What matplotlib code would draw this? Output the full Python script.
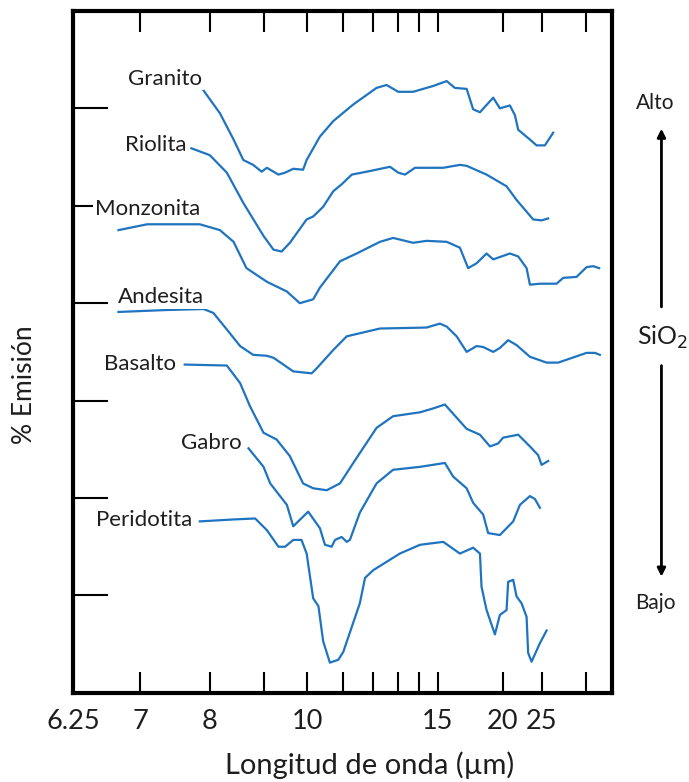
import numpy as np
import matplotlib.pyplot as plt
from matplotlib.patches import FancyArrowPatch

# Espectros de emisión (longitud de onda en µm, % emisión en unidades relativas)
granito_x = [7.87, 8.17, 8.41, 8.59, 8.78, 8.95, 9.06, 9.13, 9.31, 9.46, 9.65, 9.89, 9.98,
             10.33, 10.71, 11.33, 12.15, 12.54, 13.03, 13.71, 14.75, 15.54, 16.06, 16.88,
             17.37, 17.91, 19.07, 19.71, 20.76, 21.33, 21.72, 23.23, 24.19, 25.50, 26.96]
granito_y = [6.21, 5.95, 5.68, 5.47, 5.42, 5.35, 5.39, 5.37, 5.32, 5.34, 5.38, 5.37, 5.47,
             5.71, 5.87, 6.04, 6.21, 6.24, 6.17, 6.17, 6.23, 6.28, 6.21, 6.20,
             5.99, 5.96, 6.11, 6.00, 6.03, 5.93, 5.78, 5.68, 5.62, 5.62, 5.75]

riolita_x = [7.71, 8.00, 8.29, 8.59, 8.99, 9.20, 9.38, 9.57, 9.98, 10.15, 10.42, 10.71, 10.96,
             11.28, 11.79, 12.68, 13.03, 13.33, 13.80, 15.33, 16.40, 16.88, 18.47, 20.40,
             21.52, 23.69, 24.96, 26.06]
riolita_y = [5.59, 5.52, 5.34, 5.03, 4.69, 4.55, 4.53, 4.62, 4.86, 4.89, 4.99, 5.15, 5.22,
             5.32, 5.35, 5.40, 5.34, 5.32, 5.39, 5.39, 5.42, 5.41, 5.32, 5.20,
             5.06, 4.86, 4.85, 4.87]

monzonita_x = [6.74, 7.09, 7.84, 8.17, 8.41, 8.65, 9.06, 9.50, 9.81, 10.15, 10.33, 10.91, 11.44,
               12.28, 12.81, 13.71, 14.39, 15.54, 16.40, 16.99, 17.64, 18.47, 19.07, 20.76,
               21.72, 22.78, 23.23, 24.70, 27.61, 28.96, 32.15, 35.03, 37.23, 39.49]
monzonita_y = [4.75, 4.81, 4.81, 4.75, 4.63, 4.36, 4.22, 4.12, 4.00, 4.04, 4.16, 4.43, 4.51,
               4.63, 4.67, 4.62, 4.64, 4.63, 4.57, 4.36, 4.41, 4.51, 4.45, 4.51,
               4.48, 4.36, 4.19, 4.20, 4.20, 4.26, 4.27, 4.37, 4.38, 4.36]

andesita_x = [6.74, 7.35, 7.90, 8.06, 8.29, 8.53, 8.78, 9.06, 9.20, 9.65, 10.11, 10.24, 10.71,
              11.12, 12.28, 14.39, 15.13, 15.54, 16.18, 16.88, 17.64, 18.18, 19.07, 19.71,
              20.57, 21.52, 23.23, 25.79, 27.93, 35.03, 37.85, 39.78]
andesita_y = [3.91, 3.93, 3.94, 3.90, 3.73, 3.56, 3.47, 3.46, 3.44, 3.30, 3.28, 3.33, 3.52,
              3.66, 3.74, 3.75, 3.79, 3.76, 3.66, 3.50, 3.56, 3.55, 3.50, 3.54,
              3.62, 3.57, 3.45, 3.39, 3.39, 3.49, 3.49, 3.47]

basalto_x = [7.61, 8.29, 8.53, 8.72, 8.99, 9.27, 9.57, 9.89, 10.15, 10.52, 10.91, 11.33, 12.15,
             12.81, 14.05, 14.75, 15.43, 16.88, 17.91, 18.77, 19.54, 20.04, 21.72, 23.23,
             24.43, 24.96, 26.06]
basalto_y = [3.37, 3.36, 3.18, 2.94, 2.67, 2.60, 2.43, 2.15, 2.10, 2.08, 2.15, 2.36, 2.72,
             2.84, 2.88, 2.92, 2.96, 2.71, 2.65, 2.53, 2.56, 2.62, 2.65, 2.53,
             2.44, 2.34, 2.38]

gabro_x = [8.69, 8.99, 9.13, 9.50, 9.65, 10.02, 10.33, 10.47, 10.66, 10.76, 10.96, 11.12, 11.22,
           11.55, 12.15, 12.81, 14.05, 15.43, 15.95, 16.88, 17.37, 18.18, 18.61, 19.71,
           21.13, 21.93, 23.23, 23.94, 24.70]
gabro_y = [2.51, 2.32, 2.15, 1.93, 1.71, 1.86, 1.69, 1.52, 1.50, 1.57, 1.60, 1.55, 1.57,
           1.85, 2.15, 2.29, 2.32, 2.36, 2.22, 2.10, 1.95, 1.83, 1.64, 1.62,
           1.76, 1.93, 2.02, 1.99, 1.90]

peridotita_x = [7.84, 8.41, 8.82, 9.06, 9.31, 9.46, 9.65, 9.85, 9.98, 10.15, 10.29, 10.42, 10.61,
                10.86, 11.01, 11.55, 11.73, 12.03, 13.10, 14.05, 15.33, 16.40, 17.37, 17.91,
                18.04, 18.47, 19.23, 19.71, 20.40, 20.57, 21.13, 21.52, 22.13, 22.78, 22.99,
                23.46, 24.70, 25.79]
peridotita_y = [1.76, 1.78, 1.79, 1.67, 1.50, 1.50, 1.57, 1.57, 1.43, 0.97, 0.89, 0.53, 0.31,
                0.34, 0.42, 0.92, 1.18, 1.26, 1.43, 1.52, 1.55, 1.43, 1.49, 1.43,
                1.09, 0.85, 0.60, 0.80, 0.85, 1.14, 1.16, 0.99, 0.92, 0.78, 0.41,
                0.32, 0.51, 0.64]

rocas = ["Granito", "Riolita", "Monzonita", "Andesita", "Basalto", "Gabro", "Peridotita"]
series = [(granito_x, granito_y), (riolita_x, riolita_y), (monzonita_x, monzonita_y),
          (andesita_x, andesita_y), (basalto_x, basalto_y), (gabro_x, gabro_y),
          (peridotita_x, peridotita_y)]

xticks_all = [7, 8, 9, 10, 11, 12, 13, 14, 15, 20, 25, 35]
xticks_lab = [6.25, 7, 8, 10, 15, 20, 25]
yticks = [1, 2, 3, 4, 5, 6]

# borde derecho de cada etiqueta
label_pos = {"Granito": (7.88, 6.30), "Riolita": (7.64, 5.62), "Monzonita": (7.84, 4.97),
             "Andesita": (7.91, 4.06), "Basalto": (7.48, 3.38), "Gabro": (8.55, 2.56),
             "Peridotita": (7.73, 1.77)}

plt.rcParams['font.family'] = ['Lato', 'DejaVu Sans']
color = '#1f74c0'
tc = '#1e1e1e'


# eje lineal en número de onda (cm-1), etiquetado en µm
def fwd(x):
    x = np.asarray(x, dtype=float)
    with np.errstate(divide='ignore', invalid='ignore'):
        return 1600.0 - 10000.0 / x


def inv(w):
    w = np.asarray(w, dtype=float)
    with np.errstate(divide='ignore', invalid='ignore'):
        return 10000.0 / (1600.0 - w)


fig = plt.figure(figsize=(6.89, 7.82), dpi=100)
ax = fig.add_axes([0.106, 0.114, 0.782, 0.872])
ax.set_xscale('function', functions=(fwd, inv))
ax.set_xlim(6.25, 45.3)
ax.set_ylim(0, 7.0)

for name, (xs, ys) in zip(rocas, series):
    ax.plot(xs, ys, color=color, lw=1.6, solid_joinstyle='round')
    lx, ly = label_pos[name]
    ax.text(lx, ly, name, ha='right', va='center', fontsize=16, color=tc,
            zorder=5, bbox=dict(facecolor='white', edgecolor='none', pad=1.0))

ax.set_xticks(xticks_all)
ax.set_xticklabels([])
ax.tick_params(axis='x', direction='in', length=15, width=1.5,
               top=True, bottom=True, labelbottom=False)
for t in xticks_lab:
    ax.text(t, -0.17, '%g' % t, ha='center', va='top', fontsize=19.5, color=tc)

ax.set_yticks(yticks)
ax.set_yticklabels([])
ax.tick_params(axis='y', direction='in', length=25, width=1.5, left=True, right=False)
for s in ax.spines.values():
    s.set_linewidth(3)

fig.text(0.537, 0.022, "Longitud de onda (µm)", ha='center', va='center', fontsize=21,
         color=tc)
fig.text(0.036, 0.508, "% Emisión", ha='center', va='center', rotation=90, fontsize=19,
         color=tc)

fig.text(0.951, 0.868, "Alto", ha='center', va='center', fontsize=15, color=tc)
fig.text(0.951, 0.229, "Bajo", ha='center', va='center', fontsize=15, color=tc)
fig.text(0.961, 0.568, "SiO$_2$", ha='center', va='center', fontsize=18, color=tc)
fig.add_artist(FancyArrowPatch((0.960, 0.604), (0.960, 0.839), transform=fig.transFigure,
                               arrowstyle='-|>', mutation_scale=12, lw=2, color='black'))
fig.add_artist(FancyArrowPatch((0.960, 0.536), (0.960, 0.259), transform=fig.transFigure,
                               arrowstyle='-|>', mutation_scale=12, lw=2, color='black'))

fig.savefig("out.png", dpi=100)
